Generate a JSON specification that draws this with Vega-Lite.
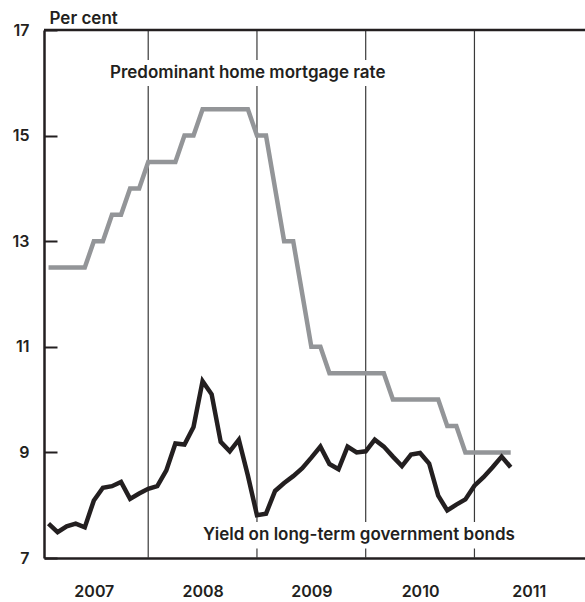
{
  "$schema": "https://vega.github.io/schema/vega-lite/v6.json",
  "width": 541,
  "height": 528,
  "autosize": "none",
  "padding": {"left": 44, "top": 30, "right": 0, "bottom": 44},
  "background": "white",
  "config": {
    "view": {"stroke": null},
    "font": "Inter",
    "axis": {"labelFont": "Inter", "titleFont": "Inter"}
  },
  "datasets": {
    "mortgage": [
      {"m": 1, "v": 12.5}, {"m": 2, "v": 12.5}, {"m": 3, "v": 12.5}, {"m": 4, "v": 12.5}, {"m": 5, "v": 12.5},
      {"m": 6, "v": 13}, {"m": 7, "v": 13}, {"m": 8, "v": 13.5}, {"m": 9, "v": 13.5}, {"m": 10, "v": 14},
      {"m": 11, "v": 14}, {"m": 12, "v": 14.5}, {"m": 13, "v": 14.5}, {"m": 14, "v": 14.5}, {"m": 15, "v": 14.5},
      {"m": 16, "v": 15}, {"m": 17, "v": 15}, {"m": 18, "v": 15.5}, {"m": 19, "v": 15.5}, {"m": 20, "v": 15.5},
      {"m": 21, "v": 15.5}, {"m": 22, "v": 15.5}, {"m": 23, "v": 15.5}, {"m": 24, "v": 15}, {"m": 25, "v": 15},
      {"m": 26, "v": 14}, {"m": 27, "v": 13}, {"m": 28, "v": 13}, {"m": 29, "v": 12}, {"m": 30, "v": 11},
      {"m": 31, "v": 11}, {"m": 32, "v": 10.5}, {"m": 33, "v": 10.5}, {"m": 34, "v": 10.5}, {"m": 35, "v": 10.5},
      {"m": 36, "v": 10.5}, {"m": 37, "v": 10.5}, {"m": 38, "v": 10.5}, {"m": 39, "v": 10}, {"m": 40, "v": 10},
      {"m": 41, "v": 10}, {"m": 42, "v": 10}, {"m": 43, "v": 10}, {"m": 44, "v": 10}, {"m": 45, "v": 9.5},
      {"m": 46, "v": 9.5}, {"m": 47, "v": 9}, {"m": 48, "v": 9}, {"m": 49, "v": 9}, {"m": 50, "v": 9},
      {"m": 51, "v": 9}, {"m": 52, "v": 9}
    ],
    "yield": [
      {"m": 1, "v": 7.65}, {"m": 2, "v": 7.49}, {"m": 3, "v": 7.6}, {"m": 4, "v": 7.65}, {"m": 5, "v": 7.58},
      {"m": 6, "v": 8.09}, {"m": 7, "v": 8.33}, {"m": 8, "v": 8.36}, {"m": 9, "v": 8.44}, {"m": 10, "v": 8.12},
      {"m": 11, "v": 8.22}, {"m": 12, "v": 8.31}, {"m": 13, "v": 8.36}, {"m": 14, "v": 8.66}, {"m": 15, "v": 9.17},
      {"m": 16, "v": 9.15}, {"m": 17, "v": 9.48}, {"m": 18, "v": 10.35}, {"m": 19, "v": 10.1}, {"m": 20, "v": 9.2},
      {"m": 21, "v": 9.02}, {"m": 22, "v": 9.24}, {"m": 23, "v": 8.56}, {"m": 24, "v": 7.81}, {"m": 25, "v": 7.84},
      {"m": 26, "v": 8.27}, {"m": 27, "v": 8.42}, {"m": 28, "v": 8.55}, {"m": 29, "v": 8.7}, {"m": 30, "v": 8.9},
      {"m": 31, "v": 9.11}, {"m": 32, "v": 8.78}, {"m": 33, "v": 8.68}, {"m": 34, "v": 9.11}, {"m": 35, "v": 9.0},
      {"m": 36, "v": 9.02}, {"m": 37, "v": 9.24}, {"m": 38, "v": 9.11}, {"m": 39, "v": 8.92}, {"m": 40, "v": 8.74},
      {"m": 41, "v": 8.96}, {"m": 42, "v": 8.99}, {"m": 43, "v": 8.79}, {"m": 44, "v": 8.18}, {"m": 45, "v": 7.9},
      {"m": 46, "v": 8.01}, {"m": 47, "v": 8.11}, {"m": 48, "v": 8.37}, {"m": 49, "v": 8.53}, {"m": 50, "v": 8.72},
      {"m": 51, "v": 8.92}, {"m": 52, "v": 8.72}
    ],
    "dividers": [
      {"m": 12, "y": 7, "y2": 15.94}, {"m": 12, "y": 16.43, "y2": 17},
      {"m": 24, "y": 7, "y2": 7.18}, {"m": 24, "y": 7.68, "y2": 15.94}, {"m": 24, "y": 16.43, "y2": 17},
      {"m": 36, "y": 7, "y2": 7.18}, {"m": 36, "y": 7.68, "y2": 15.94}, {"m": 36, "y": 16.43, "y2": 17},
      {"m": 48, "y": 7, "y2": 7.18}, {"m": 48, "y": 7.68, "y2": 17}
    ],
    "labels": [
      {"m": 7.78, "v": 16.18, "text": "Predominant home mortgage rate"},
      {"m": 18.05, "v": 7.43, "text": "Yield on long-term government bonds"}
    ]
  },
  "layer": [
    {
      "data": {"name": "dividers"},
      "mark": {"type": "rule", "color": "#3a3a3a", "strokeWidth": 1.2},
      "encoding": {
        "x": {
          "field": "m", "type": "quantitative",
          "scale": {"domain": [0.5, 60.2], "nice": false, "zero": false},
          "axis": {
            "values": [6, 18, 30, 42, 54],
            "labelExpr": "'' + (2007 + floor(datum.value / 12))",
            "title": null, "grid": false, "ticks": false,
            "domainColor": "#231f20", "domainWidth": 2.5,
            "labelFontSize": 16, "labelFontWeight": 600, "labelColor": "#231f20",
            "labelPadding": 25
          }
        },
        "y": {
          "field": "y", "type": "quantitative",
          "scale": {"domain": [7, 17], "nice": false, "zero": false},
          "axis": {
            "values": [7, 9, 11, 13, 15, 17],
            "title": "Per cent", "titleAngle": 0, "titleAlign": "left", "titleBaseline": "alphabetic",
            "titleX": 5, "titleY": -7, "titleFontSize": 17, "titleFontWeight": 600, "titleColor": "#231f20",
            "grid": false, "tickSize": -13, "tickWidth": 2, "tickColor": "#231f20",
            "domainColor": "#231f20", "domainWidth": 2.5,
            "labelFontSize": 16, "labelFontWeight": 600, "labelColor": "#231f20",
            "labelPadding": 28
          }
        },
        "y2": {"field": "y2"}
      }
    },
    {
      "data": {"values": [{"v": 17}]},
      "mark": {"type": "rule", "color": "#231f20", "strokeWidth": 2.5},
      "encoding": {"y": {"field": "v", "type": "quantitative"}}
    },
    {
      "data": {"name": "mortgage"},
      "mark": {"type": "line", "color": "#939598", "strokeWidth": 4.5},
      "encoding": {
        "x": {"field": "m", "type": "quantitative"},
        "y": {"field": "v", "type": "quantitative"}
      }
    },
    {
      "data": {"name": "yield"},
      "mark": {"type": "line", "color": "#231f20", "strokeWidth": 4.5},
      "encoding": {
        "x": {"field": "m", "type": "quantitative"},
        "y": {"field": "v", "type": "quantitative"}
      }
    },
    {
      "data": {"name": "labels"},
      "mark": {"type": "text", "align": "left", "baseline": "middle", "fontSize": 17, "fontWeight": 600, "color": "#231f20"},
      "encoding": {
        "x": {"field": "m", "type": "quantitative"},
        "y": {"field": "v", "type": "quantitative"},
        "text": {"field": "text"}
      }
    }
  ]
}
